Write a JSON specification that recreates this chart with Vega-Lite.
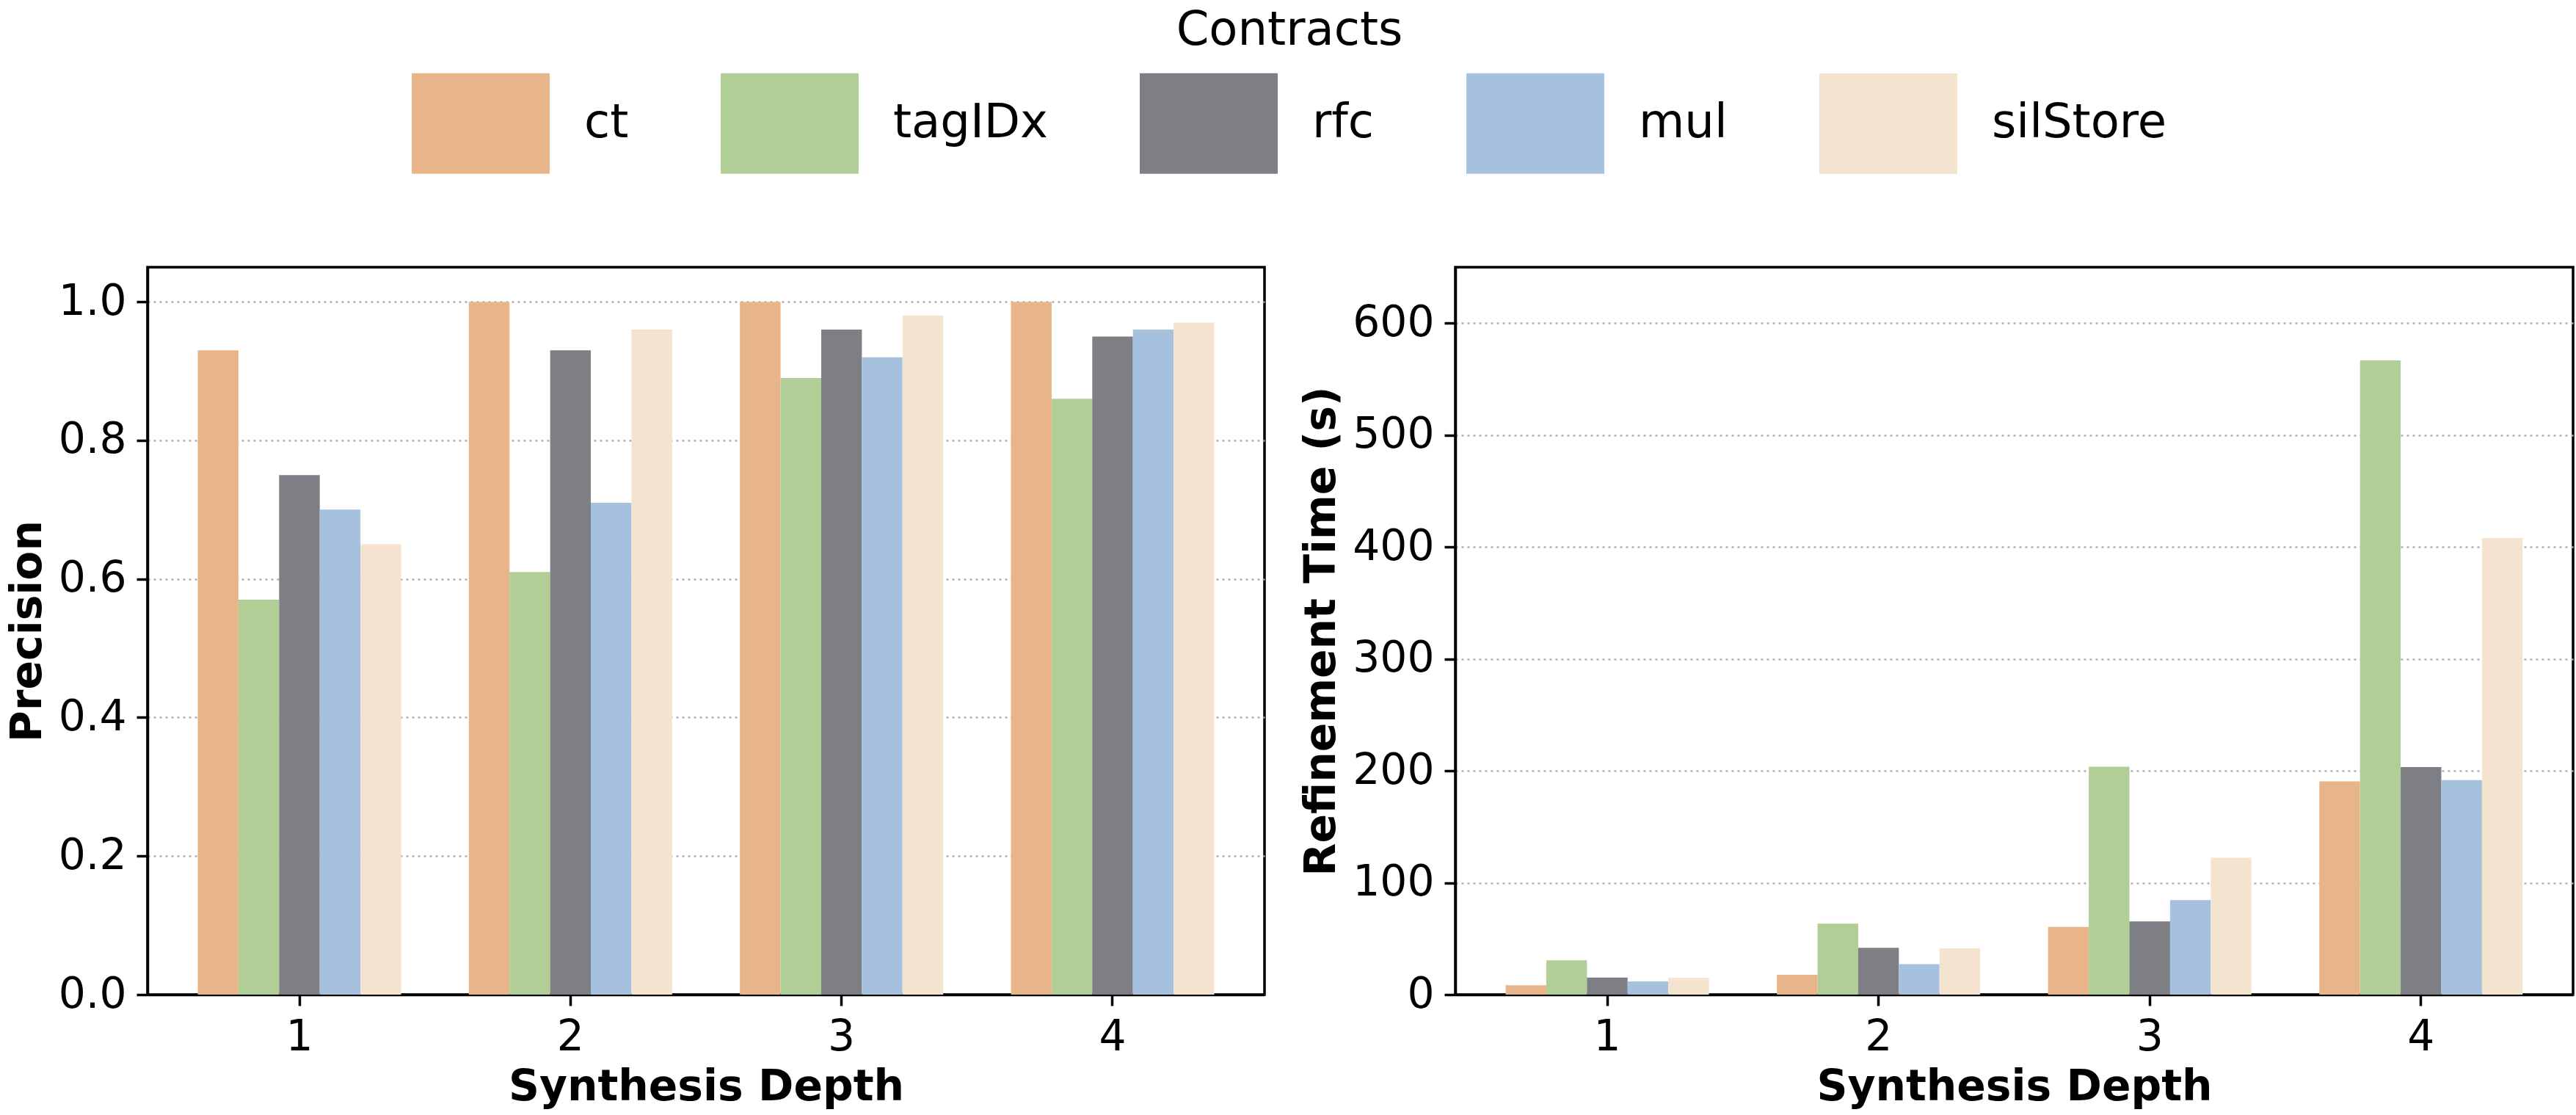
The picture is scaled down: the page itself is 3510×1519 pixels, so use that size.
{
  "$schema": "https://vega.github.io/schema/vega-lite/v6.json",
  "background": "white",
  "padding": {"left": 6, "top": 10, "right": 0, "bottom": 0},
  "autosize": {"type": "pad"},
  "datasets": {
    "results": [
      {"depth": 1, "contract": "ct", "precision": 0.93, "time": 8.3},
      {"depth": 1, "contract": "tagIDx", "precision": 0.57, "time": 30.6},
      {"depth": 1, "contract": "rfc", "precision": 0.75, "time": 15.3},
      {"depth": 1, "contract": "mul", "precision": 0.70, "time": 11.8},
      {"depth": 1, "contract": "silStore", "precision": 0.65, "time": 14.9},
      {"depth": 2, "contract": "ct", "precision": 1.00, "time": 17.7},
      {"depth": 2, "contract": "tagIDx", "precision": 0.61, "time": 63.4},
      {"depth": 2, "contract": "rfc", "precision": 0.93, "time": 41.8},
      {"depth": 2, "contract": "mul", "precision": 0.71, "time": 27.3},
      {"depth": 2, "contract": "silStore", "precision": 0.96, "time": 41.5},
      {"depth": 3, "contract": "ct", "precision": 1.00, "time": 60.5},
      {"depth": 3, "contract": "tagIDx", "precision": 0.89, "time": 203.7},
      {"depth": 3, "contract": "rfc", "precision": 0.96, "time": 65.4},
      {"depth": 3, "contract": "mul", "precision": 0.92, "time": 84.4},
      {"depth": 3, "contract": "silStore", "precision": 0.98, "time": 122.4},
      {"depth": 4, "contract": "ct", "precision": 1.00, "time": 190.6},
      {"depth": 4, "contract": "tagIDx", "precision": 0.86, "time": 566.7},
      {"depth": 4, "contract": "rfc", "precision": 0.95, "time": 203.3},
      {"depth": 4, "contract": "mul", "precision": 0.96, "time": 191.7},
      {"depth": 4, "contract": "silStore", "precision": 0.97, "time": 408}
    ]
  },
  "data": {"name": "results"},
  "spacing": 44,
  "hconcat": [
    {
      "width": 1522,
      "height": 991,
      "mark": {"type": "bar"},
      "encoding": {
        "x": {
          "field": "depth",
          "type": "ordinal",
          "title": "Synthesis Depth",
          "scale": {"paddingInner": 0.25, "paddingOuter": 0.1855}
        },
        "xOffset": {
          "field": "contract",
          "sort": ["ct", "tagIDx", "rfc", "mul", "silStore"],
          "scale": {"paddingInner": 0, "paddingOuter": 0}
        },
        "y": {
          "field": "precision",
          "type": "quantitative",
          "title": "Precision",
          "scale": {"domain": [0, 1.05], "nice": false},
          "axis": {"values": [0, 0.2, 0.4, 0.6, 0.8, 1.0], "format": ".1f"}
        },
        "color": {
          "field": "contract",
          "sort": ["ct", "tagIDx", "rfc", "mul", "silStore"],
          "scale": {
            "domain": ["ct", "tagIDx", "rfc", "mul", "silStore"],
            "range": ["#E8B48A", "#B2CE97", "#7E7F84", "#A5C1DE", "#F4E3CF"]
          },
          "legend": {"title": "Contracts"}
        }
      }
    },
    {
      "width": 1523,
      "height": 991,
      "mark": {"type": "bar"},
      "encoding": {
        "x": {
          "field": "depth",
          "type": "ordinal",
          "title": "Synthesis Depth",
          "scale": {"paddingInner": 0.25, "paddingOuter": 0.1855}
        },
        "xOffset": {
          "field": "contract",
          "sort": ["ct", "tagIDx", "rfc", "mul", "silStore"],
          "scale": {"paddingInner": 0, "paddingOuter": 0}
        },
        "y": {
          "field": "time",
          "type": "quantitative",
          "title": "Refinement Time (s)",
          "scale": {"domain": [0, 650], "nice": false},
          "axis": {"values": [0, 100, 200, 300, 400, 500, 600], "format": "d"}
        },
        "color": {
          "field": "contract",
          "sort": ["ct", "tagIDx", "rfc", "mul", "silStore"],
          "scale": {
            "domain": ["ct", "tagIDx", "rfc", "mul", "silStore"],
            "range": ["#E8B48A", "#B2CE97", "#7E7F84", "#A5C1DE", "#F4E3CF"]
          },
          "legend": {"title": "Contracts"}
        }
      }
    }
  ],
  "config": {
    "font": "DejaVu Sans",
    "view": {"stroke": "black", "strokeWidth": 3.5},
    "bar": {"strokeWidth": 0},
    "axis": {
      "domainColor": "black",
      "domainWidth": 3.5,
      "tickColor": "black",
      "tickWidth": 3.5,
      "tickSize": 15,
      "labelFont": "DejaVu Sans",
      "labelFontSize": 58.3,
      "labelColor": "black",
      "titleFont": "DejaVu Sans",
      "titleFontSize": 58.3,
      "titleFontWeight": "bold",
      "titleColor": "black",
      "labelPadding": 14,
      "zindex": 1
    },
    "axisX": {"grid": false, "labelAngle": 0, "titlePadding": 11},
    "axisY": {
      "grid": true,
      "gridColor": "#b0b0b0",
      "gridDash": [3, 5],
      "gridWidth": 2.3,
      "titlePadding": 12
    },
    "legend": {
      "orient": "top",
      "direction": "horizontal",
      "layout": {"top": {"anchor": "middle"}},
      "titleAnchor": "middle",
      "titleOrient": "top",
      "titleFont": "DejaVu Sans",
      "titleFontSize": 64,
      "titleFontWeight": "normal",
      "titleColor": "black",
      "titleLimit": 0,
      "titlePadding": 0,
      "labelFont": "DejaVu Sans",
      "labelFontSize": 64,
      "labelColor": "black",
      "labelOffset": 47,
      "labelLimit": 0,
      "columnPadding": 125,
      "symbolType": "M-1,-0.729H1V0.729H-1Z",
      "symbolSize": 35344,
      "symbolStrokeWidth": 0,
      "symbolOpacity": 1,
      "offset": 125,
      "padding": 0
    }
  }
}
